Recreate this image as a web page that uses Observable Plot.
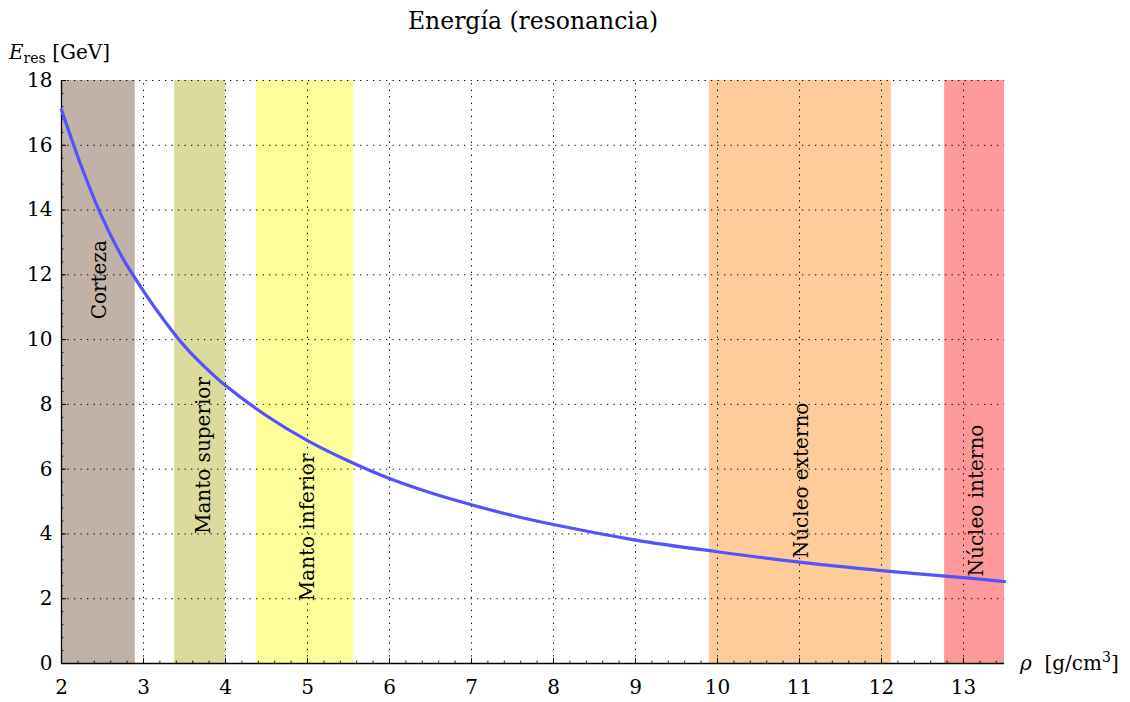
<!DOCTYPE html>
<html>
<head>
<meta charset="utf-8">
<script src="https://cdn.jsdelivr.net/npm/d3@7"></script>
<script src="https://cdn.jsdelivr.net/npm/@observablehq/plot@0.6"></script>
<style>
  html, body { margin: 0; padding: 0; background: white; }
  #chart svg { display: block; }
  #chart svg text { font-family: "DejaVu Serif", serif; }
</style>
</head>
<body>
<div id="chart"></div>
<script>
// ---- data ----
const rho    = [2, 2.25, 2.5, 2.75, 3, 3.25, 3.5, 3.75, 4, 4.5, 5, 5.5, 6, 6.5, 7, 7.5, 8, 9, 10, 11, 12, 13, 13.5];
const energy = [17.1, 15.3, 13.75, 12.5, 11.5, 10.6, 9.8, 9.15, 8.58, 7.65, 6.88, 6.25, 5.71, 5.27, 4.9, 4.57, 4.29, 3.81, 3.45, 3.13, 2.87, 2.65, 2.53];

const layerNames  = ["Corteza", "Manto superior", "Manto inferior", "Núcleo externo", "Núcleo interno"];
const layerStart  = [2, 3.38, 4.38, 9.9, 12.77];
const layerEnd    = [2.9, 4.0, 5.56, 12.12, 13.5];
const layerColors = ["#c0b2a6", "#dcdb9b", "#ffff99", "#ffcc99", "#ff9999"];
const labelRho    = [2.47, 3.73, 5.0, 11.02, 13.16];
const labelE      = [11.85, 6.42, 4.2, 5.65, 5.03];

const xTicks = [2, 3, 4, 5, 6, 7, 8, 9, 10, 11, 12, 13];
const yTicks = [0, 2, 4, 6, 8, 10, 12, 14, 16, 18];
const xMinor = d3.range(2, 13.5001, 0.2).map(v => +v.toFixed(2));
const yMinor = d3.range(0, 18.0001, 0.4).map(v => +v.toFixed(2));

const titleText = "Energía (resonancia)";

// ---- tables ----
const curve = rho.map((r, i) => ({rho: r, E: energy[i]}));
const layers = layerNames.map((n, i) => ({name: n, x1: layerStart[i], x2: layerEnd[i], color: layerColors[i], lx: labelRho[i], ly: labelE[i]}));

const FONT = "DejaVu Serif";
const dots = "1.3,5.2";

const plot = Plot.plot({
  width: 1130,
  height: 702,
  marginLeft: 61,
  marginRight: 126,
  marginTop: 80,
  marginBottom: 39,
  style: {fontFamily: FONT, fontSize: "20px", background: "white", color: "black"},
  x: {domain: [2, 13.5], axis: null},
  y: {domain: [0, 18], axis: null},
  marks: [
    Plot.rectX(layers, {x1: "x1", x2: "x2", y1: 0, y2: 18, fill: d => d.color}),
    Plot.ruleX(xTicks.slice(1), {y1: 0, y2: 18, stroke: "black", strokeWidth: 1, strokeDasharray: dots}),
    Plot.ruleY(yTicks.slice(1), {x1: 2, x2: 13.5, stroke: "black", strokeWidth: 1, strokeDasharray: dots}),
    Plot.axisX(xMinor, {anchor: "bottom", tickSize: -2.5, tickFormat: () => "", label: null, strokeWidth: 0.8}),
    Plot.axisY(yMinor, {anchor: "left", tickSize: -2.5, tickFormat: () => "", label: null, strokeWidth: 0.8}),
    Plot.axisX(xTicks, {anchor: "bottom", tickSize: -5, tickFormat: () => "", label: null}),
    Plot.axisY(yTicks, {anchor: "left", tickSize: -5, tickFormat: () => "", label: null}),
    Plot.axisX(xTicks, {anchor: "bottom", tickSize: 0, tickPadding: 16, label: null, fontSize: 20, fontFamily: FONT}),
    Plot.axisY(yTicks, {anchor: "left", tickSize: 0, tickPadding: 9, label: null, fontSize: 20, fontFamily: FONT}),
    Plot.ruleY([0], {x1: 2, x2: 13.5, stroke: "black", strokeWidth: 1.3}),
    Plot.ruleX([2], {y1: 0, y2: 18, stroke: "black", strokeWidth: 1.3}),
    Plot.line(curve, {x: "rho", y: "E", stroke: "#5252ff", strokeWidth: 3.2, curve: "catmull-rom"}),
    Plot.text(layers, {x: "lx", y: "ly", text: "name", rotate: -90, fontSize: 20, fontFamily: FONT, fill: "black"})
  ]
});

document.getElementById("chart").appendChild(plot);

// title and axis labels with sub/superscripts
const svg = d3.select(plot);
svg.append("text")
  .attr("x", 533).attr("y", 29)
  .attr("text-anchor", "middle")
  .attr("font-family", FONT).attr("font-size", 23.5).attr("fill", "black")
  .text(titleText);

const yl = svg.append("text")
  .attr("x", 9).attr("y", 59)
  .attr("text-anchor", "start")
  .attr("font-family", FONT).attr("font-size", 20).attr("fill", "black");
yl.append("tspan").attr("font-style", "italic").text("E");
yl.append("tspan").attr("font-size", 14).attr("dy", 4).text("res");
yl.append("tspan").attr("dy", -4).text(" [GeV]");

const xl = svg.append("text")
  .attr("x", 1020).attr("y", 670)
  .attr("text-anchor", "start")
  .attr("font-family", FONT).attr("font-size", 20).attr("fill", "black");
xl.append("tspan").attr("font-style", "italic").text("ρ");
xl.append("tspan").text("  [g/cm");
xl.append("tspan").attr("font-size", 14).attr("dy", -8).text("3");
xl.append("tspan").attr("dy", 8).text("]");
</script>
</body>
</html>
